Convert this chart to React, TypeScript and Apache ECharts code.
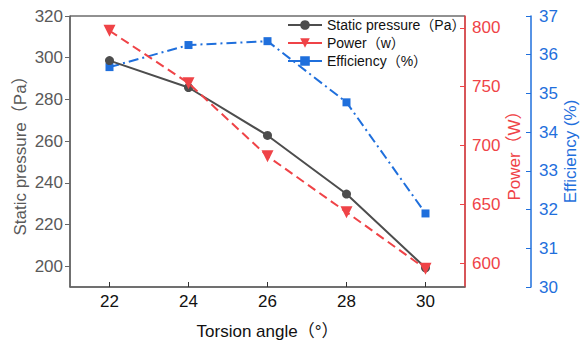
import React, { useEffect, useRef } from "react";
import * as echarts from "echarts";

const angles = [22, 24, 26, 28, 30];
const staticPressure = [298.6, 285.7, 262.7, 234.6, 199.2];
const power = [797.5, 753, 691, 643.5, 595.5];
const efficiency = [35.68, 36.25, 36.35, 34.77, 31.9];

const xTicks = [22, 24, 26, 28, 30];
const pressureTicks = [200, 220, 240, 260, 280, 300, 320];
const powerTicks = [600, 650, 700, 750, 800];

const seriesNames = ["Static pressure（Pa）", "Power（w）", "Efficiency（%）"];

const FONT = "'Liberation Sans', Arial, 'Noto Sans CJK SC', sans-serif";
const GRAY = "#4d4d4d";
const AXIS_GRAY = "#666666";
const RED = "#ef4347";
const BLUE = "#1f6fdc";

export default function App() {
  const ref = useRef<HTMLDivElement>(null);
  useEffect(() => {
    if (!ref.current) return;
    const chart = echarts.init(ref.current, undefined, { renderer: "svg" });
    chart.setOption({
      animation: false,
      textStyle: { fontFamily: FONT },
      grid: {
        left: 70,
        right: 115,
        top: 16,
        bottom: 60,
        show: true,
        borderColor: "#222",
        borderWidth: 1,
        outerBoundsMode: "none",
        containLabel: false,
      },
      legend: {
        orient: "vertical",
        left: 282,
        top: 13,
        itemWidth: 34,
        itemHeight: 12,
        itemGap: 4,
        lineStyle: { type: "solid", width: 2 },
        textStyle: { fontSize: 14, color: "#111", fontFamily: FONT },
        data: seriesNames,
      },
      xAxis: {
        type: "value",
        min: 21,
        max: 31,
        name: "Torsion angle（°）",
        nameLocation: "middle",
        nameGap: 36,
        nameMoveOverlap: false,
        nameTextStyle: { fontSize: 17, color: "#111", fontFamily: FONT },
        axisLine: { lineStyle: { color: AXIS_GRAY, width: 1.5 } },
        axisTick: { inside: true, length: 5, customValues: xTicks, lineStyle: { color: "#333" } },
        axisLabel: { customValues: xTicks, fontSize: 17, color: "#111", margin: 6 },
        splitLine: { show: false },
      },
      yAxis: [
        {
          type: "value",
          min: 190,
          max: 320,
          position: "left",
          name: "Static pressure（Pa）",
          nameLocation: "middle",
          nameRotate: 90,
          nameGap: 41,
          nameMoveOverlap: false,
          nameTextStyle: { fontSize: 17, color: "#595959", fontFamily: FONT },
          axisLine: { show: true, lineStyle: { color: AXIS_GRAY, width: 1.5 } },
          axisTick: { show: true, length: 5, customValues: pressureTicks, lineStyle: { color: AXIS_GRAY } },
          axisLabel: { customValues: pressureTicks, fontSize: 17, color: "#595959", margin: 7 },
          splitLine: { show: false },
        },
        {
          type: "value",
          min: 580,
          max: 810,
          position: "right",
          name: "Power（W）",
          nameLocation: "middle",
          nameRotate: 90,
          nameGap: 41,
          nameMoveOverlap: false,
          nameTextStyle: { fontSize: 17, color: RED, fontFamily: FONT },
          axisLine: { show: true, lineStyle: { color: RED, width: 1.5 } },
          axisTick: { show: true, inside: true, length: 5, customValues: powerTicks, lineStyle: { color: RED } },
          axisLabel: { customValues: powerTicks, fontSize: 17, color: RED, margin: 7 },
          splitLine: { show: false },
        },
        {
          type: "value",
          min: 30,
          max: 37,
          interval: 1,
          position: "right",
          offset: 66,
          name: "Efficiency (%)",
          nameLocation: "middle",
          nameRotate: 90,
          nameGap: 31,
          nameMoveOverlap: false,
          nameTextStyle: { fontSize: 17, color: BLUE, fontFamily: FONT },
          axisLine: { show: true, lineStyle: { color: BLUE, width: 1.5 } },
          axisTick: { show: true, inside: true, length: 5, lineStyle: { color: BLUE } },
          axisLabel: { fontSize: 17, color: BLUE, margin: 8 },
          splitLine: { show: false },
        },
      ],
      series: [
        {
          name: seriesNames[0],
          type: "line",
          yAxisIndex: 0,
          data: angles.map((a, i) => [a, staticPressure[i]]),
          symbol: "circle",
          symbolSize: 9,
          itemStyle: { color: GRAY },
          lineStyle: { color: GRAY, width: 2 },
          z: 3,
        },
        {
          name: seriesNames[1],
          type: "line",
          yAxisIndex: 1,
          data: angles.map((a, i) => [a, power[i]]),
          symbol: "triangle",
          symbolRotate: 180,
          symbolSize: 12,
          itemStyle: { color: RED },
          lineStyle: { color: RED, width: 2, type: [9, 5] },
          z: 4,
        },
        {
          name: seriesNames[2],
          type: "line",
          yAxisIndex: 2,
          data: angles.map((a, i) => [a, efficiency[i]]),
          symbol: "rect",
          symbolSize: 8,
          itemStyle: { color: BLUE },
          lineStyle: { color: BLUE, width: 2, type: [10, 4, 2, 4] },
          z: 2,
        },
      ],
    });
    return () => chart.dispose();
  }, []);
  return (
    <div
      ref={ref}
      style={{ position: "absolute", left: 0, top: 0, width: 580, height: 347, background: "#fff" }}
    />
  );
}
